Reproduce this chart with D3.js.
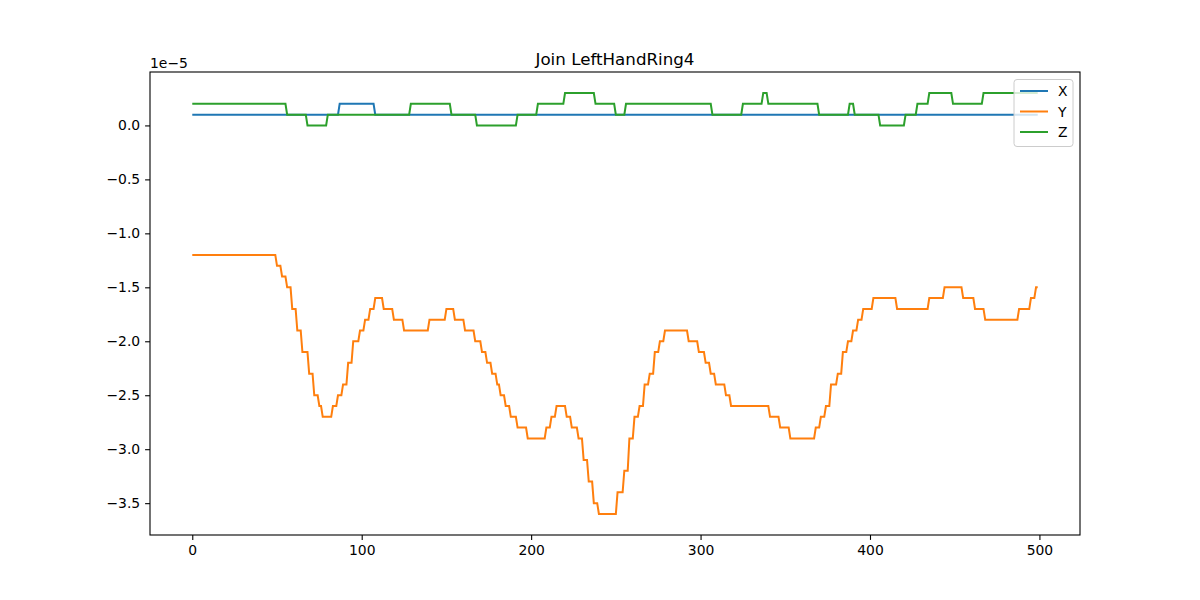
<!DOCTYPE html>
<html><head><meta charset="utf-8">
<script src="https://cdn.jsdelivr.net/npm/d3@7"></script>
<style>body{margin:0;background:#fff}text{font-family:"DejaVu Sans",sans-serif}</style>
</head><body><svg id="c" width="1200" height="600"></svg>
<script>
// step runs: [start index, value in 1e-6]
const N = 500;
const xRuns = [[0,1],[87,2],[108,1]];
const yRuns = [[0,-12],[50,-13],[53,-14],[56,-15],[59,-17],[62,-19],[65,-21],[69,-23],[72,-25],[75,-26],[77,-27],[83,-26],[86,-25],[89,-24],[92,-22],[95,-20],[99,-19],[102,-18],[105,-17],[108,-16],[113,-17],[119,-18],[125,-19],[140,-18],[150,-17],[155,-18],[161,-19],[167,-20],[171,-21],[174,-22],[177,-23],[180,-24],[182,-25],[185,-26],[188,-27],[192,-28],[198,-29],[209,-28],[212,-27],[215,-26],[221,-27],[224,-28],[228,-29],[231,-31],[234,-33],[237,-35],[240,-36],[251,-34],[255,-32],[258,-29],[261,-27],[264,-26],[267,-24],[270,-23],[273,-21],[276,-20],[279,-19],[293,-20],[299,-21],[303,-22],[306,-23],[309,-24],[315,-25],[318,-26],[341,-27],[347,-28],[353,-29],[368,-28],[371,-27],[374,-26],[377,-24],[381,-23],[384,-21],[387,-20],[390,-19],[393,-18],[396,-17],[402,-16],[416,-17],[435,-16],[444,-15],[455,-16],[462,-17],[468,-18],[488,-17],[495,-16],[498,-15]];
const zRuns = [[0,2],[56,1],[68,0],[80,1],[129,2],[153,1],[168,0],[192,1],[204,2],[220,3],[238,2],[250,1],[256,2],[307,1],[325,2],[337,3],[340,2],[370,1],[388,2],[391,1],[406,0],[421,1],[428,2],[435,3],[449,2],[467,3]];
const yTicks = [0,-0.5,-1,-1.5,-2,-2.5,-3,-3.5];
const xTicks = [0,100,200,300,400,500];
const series = [{name:"X",runs:xRuns,color:"#1f77b4"},{name:"Y",runs:yRuns,color:"#ff7f0e"},{name:"Z",runs:zRuns,color:"#2ca02c"}];

function expand(runs){const out=[];let r=0;for(let i=0;i<N;i++){while(r+1<runs.length&&runs[r+1][0]<=i)r++;out.push(runs[r][1]*1e-6);}return out;}

const L=150,R=1080,T=72,B=535;
const svg=d3.select("#c");
const x=d3.scaleLinear().domain([-24.95,523.95]).range([L,R]);
const y=d3.scaleLinear().domain([-37.95e-6,4.95e-6]).range([B,T]);
const line=d3.line().x((d,i)=>x(i)).y(d=>y(d));
series.forEach(s=>{
  svg.append("path").datum(expand(s.runs)).attr("d",line).attr("fill","none").attr("stroke",s.color).attr("stroke-width",2);
});
const xa=svg.append("g").attr("transform",`translate(0,${B})`).call(d3.axisBottom(x).tickValues(xTicks).tickSize(4.9).tickPadding(4.9));
const ya=svg.append("g").attr("transform",`translate(${L},0)`).call(d3.axisLeft(y).tickValues(yTicks.map(v=>v*1e-5)).tickFormat((d,i)=>d3.format(".1f")(yTicks[i]).replace("-","\u2212")).tickSize(4.9).tickPadding(4.9));
[xa,ya].forEach(a=>{a.select(".domain").remove();a.selectAll("text").attr("font-size",13.9).attr("fill","#000").attr("font-family","DejaVu Sans");a.selectAll("line").attr("stroke","#000").attr("stroke-width",1.1);});
svg.append("rect").attr("x",L).attr("y",T).attr("width",R-L).attr("height",B-T).attr("fill","none").attr("stroke","#000").attr("stroke-width",1.1);
svg.append("text").attr("x",(L+R)/2).attr("y",T-7).attr("text-anchor","middle").attr("font-size",16.7).text("Join LeftHandRing4");
svg.append("text").attr("x",L).attr("y",T-4).attr("font-size",13.9).text("1e\u22125");
const lg=svg.append("g");
lg.append("rect").attr("x",1014).attr("y",79.5).attr("width",59).attr("height",67).attr("rx",3).attr("fill","#fff").attr("fill-opacity",0.8).attr("stroke","#ccc");
series.forEach((s,i)=>{
  const yy=91+i*20.5;
  lg.append("line").attr("x1",1020).attr("x2",1048).attr("y1",yy).attr("y2",yy).attr("stroke",s.color).attr("stroke-width",2);
  lg.append("text").attr("x",1058).attr("y",yy+5).attr("font-size",13.9).text(s.name);
});
</script></body></html>
